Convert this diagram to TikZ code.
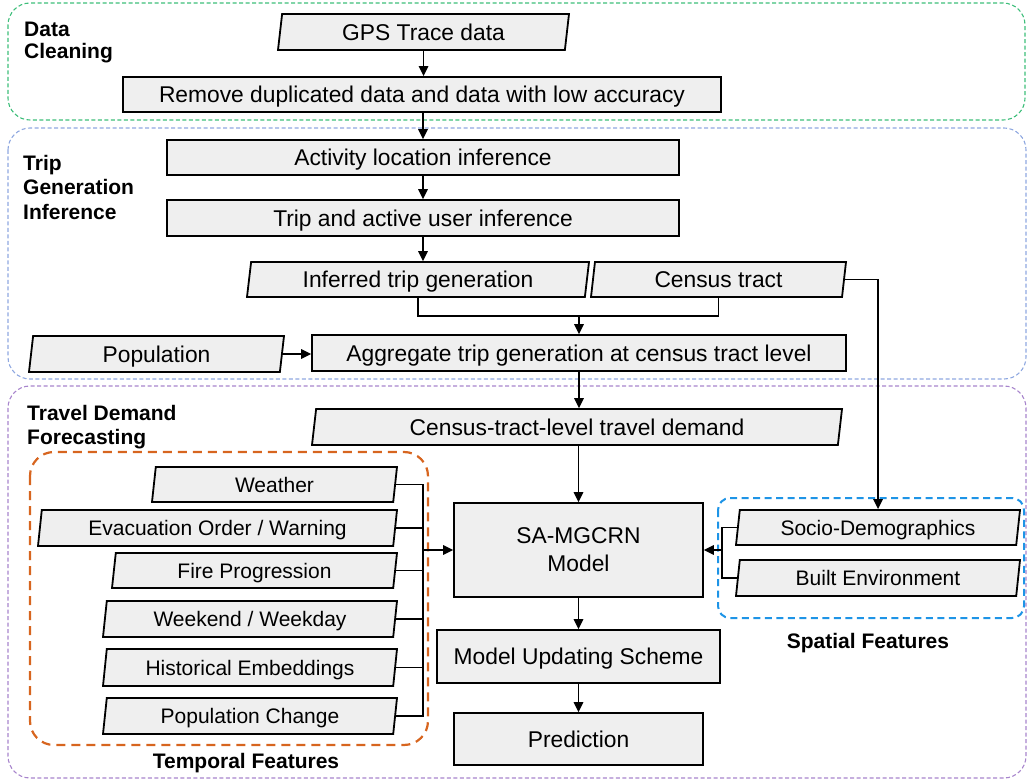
\documentclass[tikz,border=0pt]{standalone}
\usepackage{fontspec}
\setmainfont{Liberation Sans}
\usetikzlibrary{arrows.meta,shapes.geometric}
\definecolor{boxfill}{HTML}{EFEFEF}
\definecolor{cleangreen}{HTML}{3DBE7A}
\definecolor{tripblue}{HTML}{8FA8E0}
\definecolor{forepurple}{HTML}{A784CC}
\definecolor{temporange}{HTML}{D7651F}
\definecolor{spatblue}{HTML}{1E94E6}
\begin{document}
\begin{tikzpicture}[x=1pt,y=-1pt,
  mainfont/.style={font=\fontsize{22.8}{28}\selectfont},
  featfont/.style={font=\fontsize{21}{25}\selectfont},
  box/.style={rectangle, draw=black, line width=1.8pt, fill=boxfill, inner sep=0pt, mainfont, align=center, text depth=0pt},
  para/.style={trapezium, trapezium left angle=76, trapezium right angle=104,
    trapezium stretches body, draw=black, line width=1.8pt, fill=boxfill, inner sep=0pt, mainfont, text depth=0pt},
  feat/.style={para, featfont},
  conn/.style={line width=1.5pt},
  arr/.style={conn, -{Triangle[length=10pt,width=9.5pt]}},
  region/.style={line width=1.1pt, dash pattern=on 4pt off 2.5pt, rounded corners=22pt},
  lbl/.style={font=\fontsize{21}{24.5}\selectfont\bfseries, align=left, anchor=north west, inner sep=0pt},
  flbl/.style={font=\fontsize{21}{25}\selectfont\bfseries, inner sep=0pt}
]
\useasboundingbox (0,0) rectangle (1028,783);

% regions
\draw[region, draw=cleangreen] (8,3) rectangle (1025,120);
\draw[region, draw=tripblue] (8,128) rectangle (1026,379);
\draw[region, draw=forepurple] (8,386) rectangle (1026,778);
\draw[draw=temporange, line width=2.2pt, dash pattern=on 9pt off 6pt, rounded corners=24pt] (30,452) rectangle (428,745);
\draw[draw=spatblue, line width=2pt, dash pattern=on 7pt off 4.5pt, rounded corners=12pt] (718,498) rectangle (1024,618);

% region labels
\node[lbl] (lclean) at (24,22) {Data\\[-2.5pt]Cleaning};
\node[lbl] (ltrip) at (23,155) {Trip\\Generation\\Inference};
\node[lbl] (lfore) at (27,405) {Travel Demand\\Forecasting};
\node[flbl] (ltemp) at (246,763) {Temporal Features};
\node[flbl] (lspat) at (868,643) {Spatial Features};

% main flow
\node[para, minimum width=291pt, minimum height=36pt] (gps) at (423.5,32) {GPS Trace data};
\node[box, minimum width=598pt, minimum height=35pt] (remove) at (422,94.5) {Remove duplicated data and data with low accuracy};
\node[box, minimum width=512pt, minimum height=35pt] (act) at (423,157.5) {Activity location inference};
\node[box, minimum width=512pt, minimum height=36pt] (trip) at (423,218) {Trip and active user inference};
\node[para, minimum width=342pt, minimum height=35pt] (inferred) at (418,279.5) {Inferred trip generation};
\node[para, minimum width=255pt, minimum height=35pt] (census) at (718.5,279.5) {Census tract};
\node[para, minimum width=255pt, minimum height=36pt] (pop) at (156.5,354) {Population};
\node[box, minimum width=534pt, minimum height=36pt] (agg) at (579,353) {Aggregate trip generation at census tract level};
\node[para, minimum width=530pt, minimum height=36pt] (ctl) at (577,427) {Census-tract-level travel demand};
\node[box, minimum width=249pt, minimum height=94pt] (sa) at (578.5,550) {SA-MGCRN\\Model};
\node[box, minimum width=283pt, minimum height=53pt] (mus) at (578.5,656.5) {Model Updating Scheme};
\node[box, minimum width=249pt, minimum height=52pt] (pred) at (578.5,739) {Prediction};

% spatial features
\node[feat, minimum width=284pt, minimum height=35pt] (socio) at (878,527.5) {Socio-Demographics};
\node[feat, minimum width=284pt, minimum height=36pt] (built) at (878,578) {Built Environment};

% temporal features
\node[feat, minimum width=245pt, minimum height=35pt] (weather) at (274.5,484.5) {Weather};
\node[feat, minimum width=359pt, minimum height=36pt] (evac) at (217.5,528) {Evacuation Order / Warning};
\node[feat, minimum width=285pt, minimum height=35pt] (fire) at (254.5,570.5) {Fire Progression};
\node[feat, minimum width=294pt, minimum height=36pt] (week) at (250,619) {Weekend / Weekday};
\node[feat, minimum width=294pt, minimum height=37pt] (hist) at (250,667.5) {Historical Embeddings};
\node[feat, minimum width=294pt, minimum height=36pt] (popc) at (250,716) {Population Change};

% coordinates
\coordinate (j) at (579,316);
\coordinate (tbus) at (423,550);
\coordinate (sbus) at (722,550);

% connectors
\draw[arr] (gps.south) -- (gps.south |- remove.north);
\draw[arr] (remove.south -| act.north) -- (act.north);
\draw[arr] (act.south) -- (trip.north);
\draw[arr] (trip.south) -- (trip.south |- inferred.north);
\draw[conn] (inferred.south) |- (j) -| (census.south);
\draw[arr] (j) -- (agg.north);
\draw[arr] (pop.east) -- (pop.east -| agg.west);
\draw[arr] (agg.south) -- (agg.south |- ctl.north);
\draw[arr] (ctl.south -| sa.north) -- (sa.north);
\draw[arr] (census.east) -| (socio.north);
\draw[arr] (sa.south) -- (mus.north);
\draw[arr] (mus.south) -- (pred.north);

% spatial bus
\draw[conn] (socio.west) -| (sbus) |- (built.west);
\draw[arr] (sbus) -- (sa.east);

% temporal bus
\draw[conn] (weather.east) -| (tbus) |- (popc.east);
\foreach \n in {evac,fire,week,hist} \draw[conn] (\n.east) -- (\n.east -| tbus);
\draw[arr] (tbus) -- (sa.west);
\end{tikzpicture}
\end{document}
